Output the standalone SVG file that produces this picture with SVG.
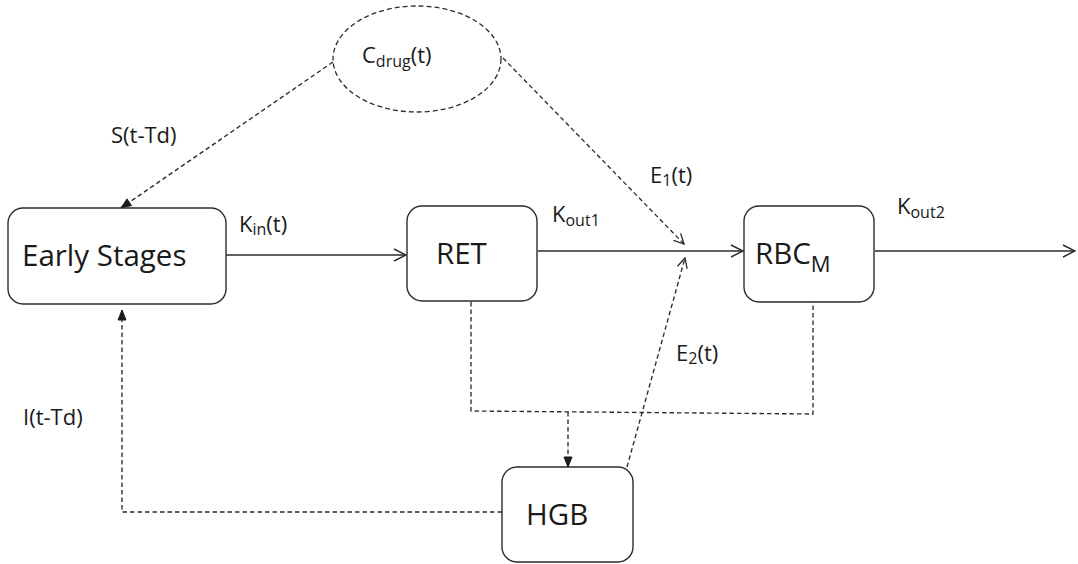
<svg xmlns="http://www.w3.org/2000/svg" width="1078" height="564" viewBox="0 0 1078 564">
  <style>
    .box { fill: #ffffff; stroke: #2b2b2b; stroke-width: 1.4; }
    .drug { fill: #ffffff; stroke: #2b2b2b; stroke-width: 1.3; stroke-dasharray: 5 3; }
    .solid { fill: none; stroke: #2b2b2b; stroke-width: 1.4; }
    .dash { fill: none; stroke: #2b2b2b; stroke-width: 1.35; stroke-dasharray: 4.5 3; }
    .big { font-family: "Open Sans", "Noto Sans", sans-serif; font-size: 29.5px; fill: #1a1a1a; }
    .lbl { font-family: "Open Sans", "Noto Sans", sans-serif; font-size: 22px; fill: #1a1a1a; }
    .sub { font-size: 16px; }
    .subbig { font-size: 22px; }
  </style>
  <defs>
    <marker id="open" markerUnits="userSpaceOnUse" markerWidth="14" markerHeight="14" viewBox="0 0 14 14" refX="13" refY="7" orient="auto">
      <path d="M1,1 L13,7 L1,13" fill="none" stroke="#2b2b2b" stroke-width="1.4"/>
    </marker>
    <marker id="openSmall" markerUnits="userSpaceOnUse" markerWidth="12" markerHeight="12" viewBox="0 0 12 12" refX="11" refY="6" orient="auto">
      <path d="M1,1 L11,6 L1,11" fill="none" stroke="#2b2b2b" stroke-width="1.3"/>
    </marker>
    <marker id="filled" markerUnits="userSpaceOnUse" markerWidth="12" markerHeight="12" viewBox="0 0 12 12" refX="11" refY="6" orient="auto">
      <path d="M1,2 L11,6 L1,10 Z" fill="#1a1a1a" stroke="#1a1a1a" stroke-width="1"/>
    </marker>
  </defs>

  <!-- connectors -->
  <g id="connectors">
    <line class="solid" x1="226" y1="255" x2="406" y2="255" marker-end="url(#open)"/>
    <line class="solid" x1="538" y1="251" x2="743" y2="251" marker-end="url(#open)"/>
    <line class="solid" x1="875" y1="251" x2="1075" y2="251" marker-end="url(#open)"/>
    <line class="dash" x1="503" y1="58" x2="684" y2="244" marker-end="url(#openSmall)"/>
    <line class="dash" x1="627" y1="467" x2="685" y2="258" marker-end="url(#openSmall)"/>
    <line class="dash" x1="333" y1="62" x2="121" y2="208" marker-end="url(#filled)"/>
    <polyline class="dash" points="502,512 122,512 122,310" marker-end="url(#filled)"/>
    <polyline class="dash" points="471,302 471,411 813,414 813,302"/>
    <line class="dash" x1="568" y1="412" x2="568" y2="467" marker-end="url(#filled)"/>
  </g>

  <!-- edge labels -->
  <g id="labels">
    <text class="lbl" x="111" y="143">S(t-Td)</text>
    <text class="lbl" x="239" y="232">K<tspan class="sub" dy="3">in</tspan><tspan dy="-3">(t)</tspan></text>
    <text class="lbl" x="552" y="222">K<tspan class="sub" dy="4">out1</tspan></text>
    <text class="lbl" x="650" y="183">E<tspan class="sub" dy="3">1</tspan><tspan dy="-3">(t)</tspan></text>
    <text class="lbl" x="897" y="214">K<tspan class="sub" dy="4">out2</tspan></text>
    <text class="lbl" x="676" y="361">E<tspan class="sub" dy="3">2</tspan><tspan dy="-3">(t)</tspan></text>
    <text class="lbl" x="23" y="425">I(t-Td)</text>
  </g>

  <!-- nodes -->
  <g id="node-drug">
    <ellipse class="drug" cx="417" cy="59" rx="84" ry="53"/>
    <text class="lbl" x="362" y="63">C<tspan class="sub" dy="4">drug</tspan><tspan dy="-4">(t)</tspan></text>
  </g>
  <g id="node-early">
    <rect class="box" x="8" y="208" width="218" height="96" rx="15" ry="15"/>
    <text class="big" x="22" y="266">Early Stages</text>
  </g>
  <g id="node-ret">
    <rect class="box" x="407" y="206" width="130" height="95" rx="15" ry="15"/>
    <text class="big" x="436" y="264">RET</text>
  </g>
  <g id="node-rbc">
    <rect class="box" x="744" y="206" width="130" height="96" rx="15" ry="15"/>
    <text class="big" x="755" y="264">RBC<tspan class="subbig" dy="8">M</tspan></text>
  </g>
  <g id="node-hgb">
    <rect class="box" x="502" y="467" width="131" height="95" rx="15" ry="15"/>
    <text class="big" x="526" y="525">HGB</text>
  </g>
</svg>
